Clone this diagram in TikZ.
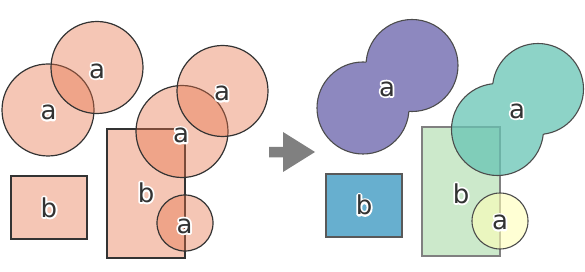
\documentclass[tikz,border=0pt]{standalone}
\usepackage{fontspec}
\setmainfont{DejaVu Sans}
\definecolor{salmon}{RGB}{230,113,70}
\definecolor{edgedark}{HTML}{333333}
\definecolor{txt}{HTML}{333333}
\definecolor{purp}{HTML}{8D88BF}
\definecolor{tealc}{RGB}{103,196,180}
\definecolor{bluec}{HTML}{67AFCF}
\definecolor{greenc}{HTML}{CCE9CB}
\definecolor{yellowc}{RGB}{255,255,183}
\definecolor{arrowc}{HTML}{808080}
\newcommand{\halo}[1]{\rlap{\color{white}\special{pdf:literal direct 1 Tr 3.6 w 1 j}#1\special{pdf:literal direct 0 Tr}}#1}
\tikzset{
  src/.style={fill=salmon, fill opacity=0.4, draw=edgedark, line width=1.2pt},
  lbl/.style={text=txt, font=\fontsize{26}{26}\selectfont, inner sep=0pt, anchor=center},
  uedge/.style={draw=black!70, line width=1.1pt},
}
\newcommand{\outside}[2]{%
  \clip (-50,-50) -- (650,-50) -- (650,350) -- (-50,350) -- cycle
        (#1) ++(#2,0) arc[start angle=0, end angle=-360, radius=#2];}
\begin{document}
\begin{tikzpicture}[x=1pt,y=-1pt]
\useasboundingbox (0,0) rectangle (585,272);
% ---------- left panel ----------
\path[src] (11,176) rectangle (87,239);
\path[src] (107,129) rectangle (185,258);
\path[src] (48,110) circle (46);
\path[src] (97,67.5) circle (46);
\path[src] (182,131.5) circle (46);
\path[src] (222.5,91) circle (45.5);
\path[src] (185,223) circle (28);
% arrow
\fill[arrowc] (269,147) -- (283,147) -- (283,132) -- (315,152) -- (283,172) -- (283,157.5) -- (269,157.5) -- cycle;
% ---------- right panel ----------
\coordinate (pA) at (363,108);
\coordinate (pB) at (412,65.5);
\fill[purp] (pA) circle (46) (pB) circle (46);
\begin{scope}\outside{pB}{46}\draw[uedge] (pA) circle (46);\end{scope}
\begin{scope}\outside{pA}{46}\draw[uedge] (pB) circle (46);\end{scope}
\path[fill=bluec, draw=black!65, line width=1.1pt] (326,174) rectangle (402,237);
\path[fill=greenc, draw=black!50, line width=1.1pt] (422,127) rectangle (500,256);
\coordinate (tA) at (497.5,129.5);
\coordinate (tB) at (538,89);
\fill[tealc, fill opacity=0.75] (tA) circle (46) (tB) circle (45.5);
\begin{scope}\outside{tB}{45.5}\draw[uedge] (tA) circle (46);\end{scope}
\begin{scope}\outside{tA}{46}\draw[uedge] (tB) circle (45.5);\end{scope}
\path[fill=yellowc, fill opacity=0.6, draw=black!70, line width=1.1pt] (500,221) circle (28);
% ---------- labels ----------
\node[lbl] (la1) at (97,71) {\halo{a}};
\node[lbl] (la2) at (48.5,112.5) {\halo{a}};
\node[lbl] (la3) at (222,93.5) {\halo{a}};
\node[lbl] (la4) at (181,135.5) {\halo{a}};
\node[lbl] (la5) at (184.5,226) {\halo{a}};
\node[lbl] (lb1) at (49,207.5) {\halo{b}};
\node[lbl] (lb2) at (146,192.5) {\halo{b}};
\node[lbl] (ra1) at (387,89) {\halo{a}};
\node[lbl] (ra2) at (517,111) {\halo{a}};
\node[lbl] (rb1) at (364,205) {\halo{b}};
\node[lbl] (rb2) at (461,193.5) {\halo{b}};
\node[lbl] (ra3) at (500,222.5) {\halo{a}};
\end{tikzpicture}
\end{document}
